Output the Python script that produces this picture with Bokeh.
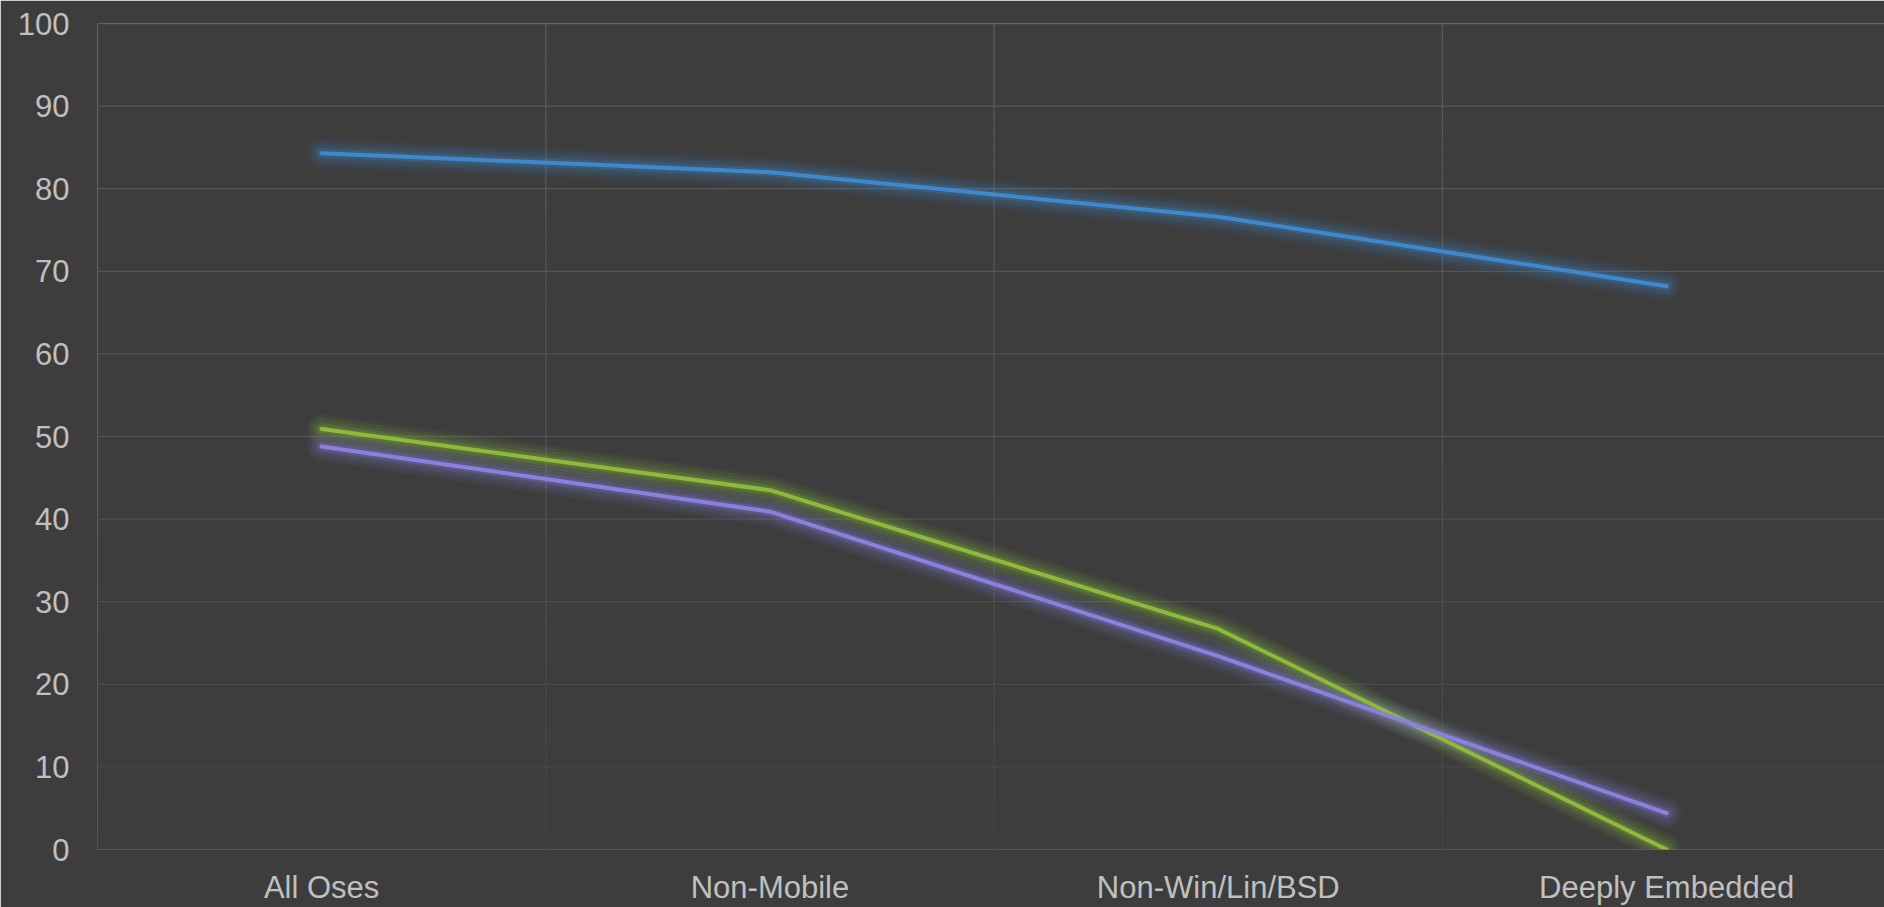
from bokeh.plotting import figure
from bokeh.models import Range1d, FixedTicker
from bokeh.embed import file_html
from bokeh.resources import INLINE

# ---- data ----
categories = ["All Oses", "Non-Mobile", "Non-Win/Lin/BSD", "Deeply Embedded"]
blue_vals = [84.3, 82.0, 76.6, 68.2]
green_vals = [50.9, 43.5, 26.7, 0.0]
purple_vals = [48.8, 40.9, 23.4, 4.4]
y_ticks = [0, 10, 20, 30, 40, 50, 60, 70, 80, 90, 100]

BG = "#3d3d3d"
TXT = "#c0c0c0"
FONT = "Liberation Sans"

x_pos = [i + 0.5 for i in range(len(categories))]
x_bounds = list(range(len(categories) + 1))

W, H = 1884, 907
p = figure(width=W, height=H, output_backend="svg", toolbar_location=None,
           x_range=Range1d(0, 3.986), y_range=Range1d(0, 100),
           min_border_left=97, min_border_right=0, min_border_top=23, min_border_bottom=56)
p.background_fill_color = BG
p.border_fill_color = BG
p.outline_line_color = None
p.xgrid.grid_line_color = None
p.ygrid.grid_line_color = None


def grid_col(y):
    t = max(0.0, min(1.0, y / 100.0)) ** 0.7
    lo, hi = 0x42, 0x5b
    v = int(round(lo + (hi - lo) * t))
    return "#%02x%02x%02x" % (v, v, v)


# horizontal gridlines (fading toward bottom)
p.segment(x0=[0] * len(y_ticks), x1=[4.2] * len(y_ticks), y0=y_ticks, y1=y_ticks,
          line_color=[grid_col(y) for y in y_ticks], line_width=1.3)

# vertical gridlines at category boundaries, drawn as short pieces for a fade
nseg = 50
vx, vy0, vy1, vc = [], [], [], []
for xb in x_bounds:
    for k in range(nseg):
        a = 100.0 * k / nseg
        b = 100.0 * (k + 1) / nseg
        vx.append(xb)
        vy0.append(a)
        vy1.append(b)
        vc.append(grid_col((a + b) / 2))
p.segment(x0=vx, x1=vx, y0=vy0, y1=vy1, line_color=vc, line_width=1.3)

series = [
    (blue_vals, "#3e88cc"),
    (green_vals, "#8dba3b"),
    (purple_vals, "#8b80e0"),
]

# glow
for vals, col in series:
    for w, a in [(30, 0.06), (24, 0.08), (18, 0.10), (12, 0.13), (8, 0.16)]:
        p.line(x_pos, vals, line_color=col, line_width=w, line_alpha=a,
               line_cap="round", line_join="round")
for vals, col in series:
    p.line(x_pos, vals, line_color=col, line_width=4,
           line_cap="round", line_join="round")

# axes
p.xaxis.ticker = FixedTicker(ticks=x_pos)
p.xaxis.major_label_overrides = {x: c for x, c in zip(x_pos, categories)}
p.yaxis.ticker = FixedTicker(ticks=y_ticks)
for ax in (p.xaxis, p.yaxis):
    ax.axis_line_color = None
    ax.major_tick_line_color = None
    ax.minor_tick_line_color = None
    ax.major_tick_in = 0
    ax.major_tick_out = 0
    ax.major_label_text_color = TXT
    ax.major_label_text_font = FONT
    ax.major_label_text_font_size = "31px"
p.xaxis.major_label_standoff = 20
p.yaxis.major_label_standoff = 28

open("out.html", "w").write(file_html(p, INLINE))
